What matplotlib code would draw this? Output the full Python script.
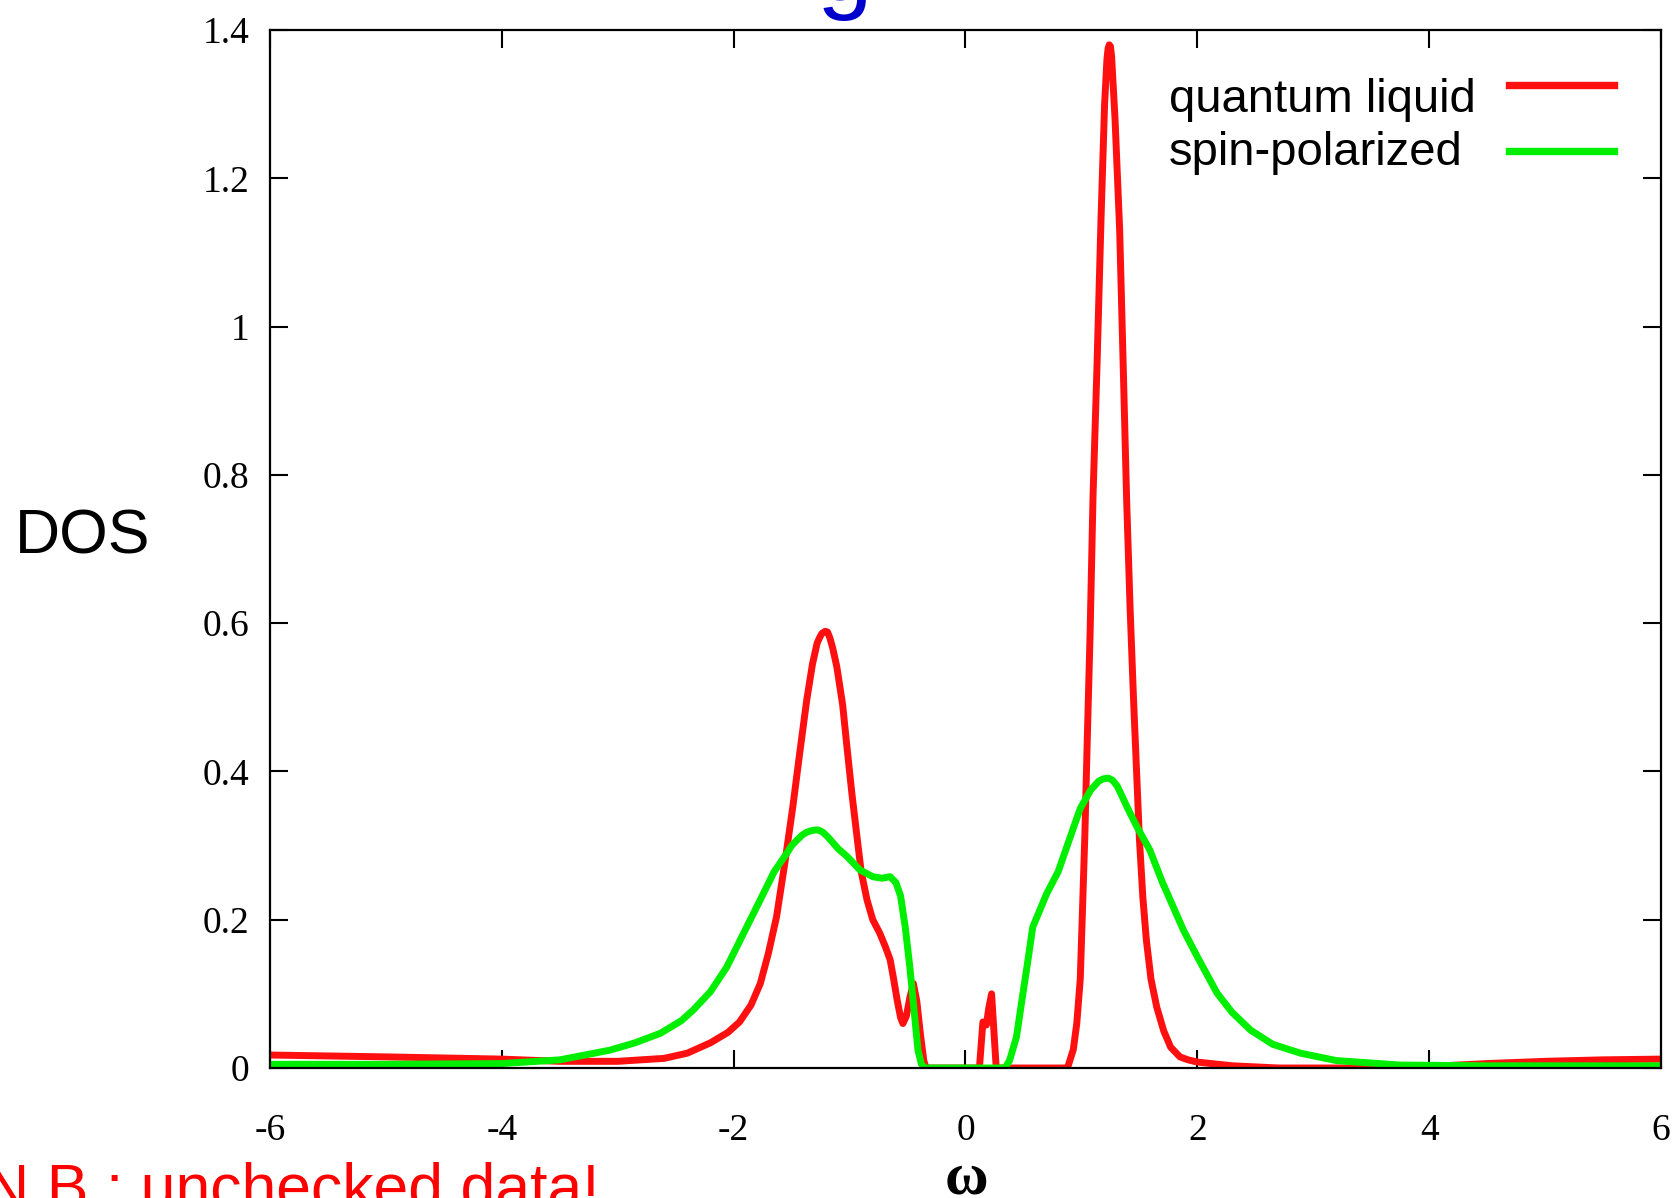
import matplotlib
matplotlib.use("Agg")
import matplotlib.pyplot as plt
from matplotlib.lines import Line2D

# quantum liquid (red)
ql_x = [-6.0, -5.0, -4.0, -3.5, -3.0, -2.6, -2.4, -2.2, -2.05, -1.95, -1.85, -1.77,
        -1.70, -1.63, -1.56, -1.49, -1.43, -1.37, -1.32, -1.28, -1.26, -1.24, -1.21,
        -1.19, -1.17, -1.145, -1.11, -1.06, -1.02, -0.98, -0.94, -0.90, -0.85, -0.80,
        -0.74, -0.69, -0.65, -0.62, -0.59, -0.56, -0.54, -0.51, -0.48, -0.45, -0.42,
        -0.39, -0.36, -0.34,
        0.12, 0.15, 0.18, 0.20, 0.225, 0.245, 0.265,
        0.88, 0.93, 0.96, 0.99, 1.01, 1.03, 1.05, 1.075, 1.10, 1.135, 1.17, 1.20,
        1.22, 1.23, 1.24, 1.25, 1.26, 1.29, 1.33, 1.36, 1.39, 1.42, 1.45, 1.50, 1.53,
        1.56, 1.60, 1.65, 1.71, 1.77, 1.85, 1.92, 2.0, 2.3, 2.7, 3.5, 4.0, 4.5, 5.0,
        5.5, 6.0]
ql_y = [0.0175, 0.015, 0.012, 0.009, 0.009, 0.013, 0.02, 0.034, 0.048, 0.062, 0.085, 0.114,
        0.155, 0.204, 0.275, 0.352, 0.425, 0.496, 0.545, 0.573, 0.58, 0.586, 0.589,
        0.588, 0.58, 0.566, 0.541, 0.49, 0.429, 0.37, 0.317, 0.265, 0.227, 0.20,
        0.182, 0.163, 0.146, 0.12, 0.092, 0.068, 0.06, 0.07, 0.095, 0.114, 0.09,
        0.047, 0.01, 0.0,
        0.0, 0.062, 0.058, 0.08, 0.10, 0.05, 0.0,
        0.0, 0.025, 0.06, 0.12, 0.217, 0.316, 0.44, 0.587, 0.77, 0.95, 1.15, 1.30,
        1.36, 1.375, 1.38, 1.378, 1.365, 1.28, 1.13, 0.95, 0.767, 0.62, 0.496, 0.31, 0.23,
        0.173, 0.12, 0.082, 0.05, 0.028, 0.015, 0.011, 0.008, 0.003, 0.0, 0.0, 0.002, 0.006,
        0.009, 0.011, 0.012]

# spin-polarized (green)
sp_x = [-6.0, -5.0, -4.0, -3.5, -3.07, -2.85, -2.63, -2.45, -2.35, -2.2, -2.06, -1.92,
        -1.77, -1.65, -1.54, -1.50, -1.45, -1.41, -1.37, -1.33, -1.30, -1.27, -1.23,
        -1.19, -1.15, -1.10, -1.02, -0.91, -0.80, -0.72, -0.65, -0.60, -0.56, -0.52,
        -0.48, -0.445, -0.41, -0.38, -0.35,
        0.34, 0.38, 0.44, 0.49, 0.53, 0.58, 0.62, 0.70, 0.80, 0.90, 0.99, 1.08, 1.15,
        1.19, 1.23, 1.27, 1.31, 1.40, 1.48, 1.59, 1.70, 1.88, 2.0, 2.17, 2.3, 2.46,
        2.65, 2.89, 3.2, 3.75, 4.5, 6.0]
sp_y = [0.005, 0.005, 0.006, 0.011, 0.024, 0.034, 0.047, 0.064, 0.078, 0.103, 0.136, 0.18,
        0.227, 0.265, 0.29, 0.30, 0.308, 0.314, 0.318, 0.320, 0.321, 0.321, 0.318,
        0.312, 0.305, 0.296, 0.285, 0.267, 0.258, 0.256, 0.258, 0.25, 0.232, 0.19,
        0.136, 0.08, 0.024, 0.005, 0.0,
        0.0, 0.01, 0.042, 0.095, 0.136, 0.19, 0.205, 0.235, 0.265, 0.31, 0.35, 0.375, 0.387,
        0.390, 0.391, 0.388, 0.38, 0.35, 0.325, 0.294, 0.25, 0.186, 0.15, 0.101, 0.075, 0.051,
        0.032, 0.02, 0.01, 0.004, 0.003, 0.003]

x_ticks = [-6, -4, -2, 0, 2, 4, 6]
x_labels = ["-6", "-4", "-2", "0", "2", "4", "6"]
y_ticks = [0, 0.2, 0.4, 0.6, 0.8, 1.0, 1.2, 1.4]
y_labels = ["0", "0.2", "0.4", "0.6", "0.8", "1", "1.2", "1.4"]
series_names = ["quantum liquid", "spin-polarized"]

W, H = 1674, 1198
fig = plt.figure(figsize=(W / 100, H / 100), dpi=100)
ax = fig.add_axes([270 / W, 1 - 1068 / H, (1661 - 270) / W, (1068 - 30) / H])

l1, = ax.plot(ql_x, ql_y, color="#ff1010", lw=5, solid_joinstyle="round")
l2, = ax.plot(sp_x, sp_y, color="#00ee00", lw=5, solid_joinstyle="round")

ax.set_xlim(-6, 6)
ax.set_ylim(0, 1.4)
ax.set_xticks(x_ticks)
ax.set_xticklabels(x_labels)
ax.set_yticks(y_ticks)
ax.set_yticklabels(y_labels)
for sp in ax.spines.values():
    sp.set_linewidth(1.6)
ax.tick_params(direction="in", length=13, width=1.5, top=True, right=True,
               labelsize=27)
ax.tick_params(axis="x", pad=33)
ax.tick_params(axis="y", pad=15)
for lab in ax.get_xticklabels() + ax.get_yticklabels():
    lab.set_family("Liberation Serif")

# gnuplot style key: text left-aligned, sample line on the right
key_base = [112, 165]
key_line = [85, 151]
for name, ln, yb, yl in zip(series_names, [l1, l2], key_base, key_line):
    fig.text(1169 / W, 1 - yb / H, name, family="Liberation Sans", fontsize=34,
             ha="left", va="baseline")
    fig.add_artist(Line2D([1509 / W, 1614 / W], [1 - yl / H, 1 - yl / H],
                          transform=fig.transFigure, color=ln.get_color(), lw=5.3))

fig.text(83 / W, 1 - 537 / H, "DOS", family="Liberation Sans", fontsize=45,
         ha="center", va="center")
fig.text(966 / W, 1 - 1179 / H, "\u03c9", family="Liberation Serif", fontsize=43,
         fontweight="bold", ha="center", va="center")
fig.text(-16 / W, 1 - 1207 / H, "N.B.: unchecked data!", family="Liberation Sans",
         fontsize=45, color="red", ha="left", va="baseline")
fig.text(845 / W, 1.0, "g", family="Liberation Sans", fontsize=72, color="#0000cc",
         ha="center", va="baseline")

fig.savefig("out.png", dpi=100)
